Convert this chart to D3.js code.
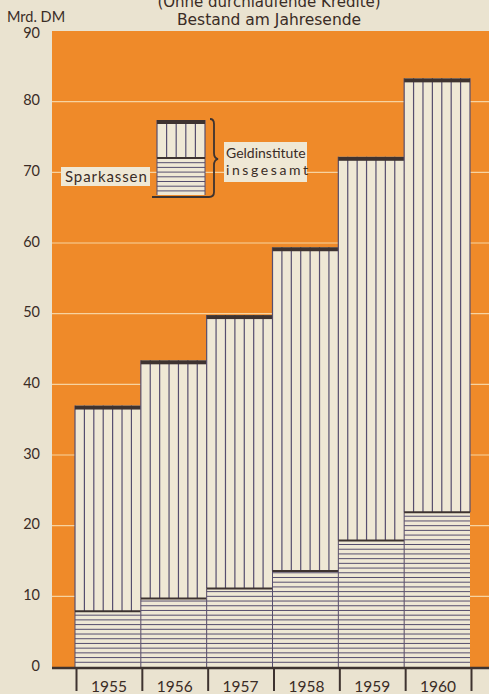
<!DOCTYPE html>
<html><head><meta charset="utf-8">
<script src="https://cdn.jsdelivr.net/npm/d3@7"></script>
<style>
html,body{margin:0;padding:0;background:#eae3d0;}
svg{display:block;}
text{font-family:Lato,"Open Sans",sans-serif;fill:#3a2c26;}
</style></head>
<body>
<script>
const years = ["1955","1956","1957","1958","1959","1960"];
const totalValues = [37.0, 43.4, 49.8, 59.4, 72.2, 83.3];   // Geldinstitute insgesamt
const sparkValues = [7.9, 9.7, 11.1, 13.6, 17.9, 21.9];      // Sparkassen
const yTicks = [0,10,20,30,40,50,60,70,80,90];
const titleLines = ["(Ohne durchlaufende Kredite)", "Bestand am Jahresende"];
const unitLabel = "Mrd. DM";
const legendLabels = {spark:"Sparkassen", total1:"Geldinstitute", total2:"insgesamt"};

const W = 489, H = 694;
const ORANGE = "#ef8a29", CREAM = "#efe8d5", DARK = "#3e3330", LINE = "#564e6e", GRID = "#f7d3a0";

const svg = d3.select("body").append("svg").attr("width", W).attr("height", H);

const y = d3.scaleLinear().domain([0, 90]).range([667, 31]);
const x = d3.scaleBand().domain(years).range([75, 470]).padding(0);

// orange plot background
svg.append("rect").attr("x", 52).attr("y", y(90)).attr("width", W - 52).attr("height", y(0) - y(90)).attr("fill", ORANGE);

// gridlines
svg.append("g").selectAll("line").data(yTicks.filter(d => d > 0 && d < 90)).join("line")
  .attr("x1", 52).attr("x2", W).attr("y1", d => y(d)).attr("y2", d => y(d))
  .attr("stroke", GRID).attr("stroke-width", 1.2);

// y labels
svg.append("g").selectAll("text").data(yTicks).join("text")
  .attr("x", 40).attr("y", d => y(d) + (d === 90 ? 3 : 0)).attr("text-anchor", "end")
  .attr("dominant-baseline", "middle").attr("font-size", 14.5).text(d => d);

svg.append("text").attr("x", 7).attr("y", 22).attr("font-size", 14.5).text(unitLabel);

// titles
svg.append("text").attr("x", 269).attr("y", 7).attr("text-anchor", "middle")
  .style("font-family", "'DejaVu Sans', sans-serif").attr("font-size", 15).text(titleLines[0]);
svg.append("text").attr("x", 269).attr("y", 25).attr("text-anchor", "middle")
  .style("font-family", "'DejaVu Sans', sans-serif").attr("font-size", 15.5).text(titleLines[1]);

// bars
const bars = svg.append("g");
const bw = x.bandwidth();
const hStep = 2 / 3; // horizontal hatch spacing in value units
years.forEach((yr, i) => {
  const x0 = x(yr), tot = totalValues[i], sp = sparkValues[i];
  const g = bars.append("g");
  g.append("rect").attr("x", x0).attr("y", y(tot)).attr("width", bw).attr("height", y(0) - y(tot)).attr("fill", CREAM);
  const nV = 7;
  d3.range(nV + (i === years.length - 1 ? 1 : 0)).forEach(k => {
    const xx = x0 + k * bw / nV;
    g.append("line").attr("x1", xx).attr("x2", xx).attr("y1", y(tot)).attr("y2", y(sp))
      .attr("stroke", LINE).attr("stroke-width", 1.2);
  });
  d3.range(hStep, sp, hStep).forEach(v => {
    g.append("line").attr("x1", x0).attr("x2", x0 + bw).attr("y1", y(v)).attr("y2", y(v))
      .attr("stroke", LINE).attr("stroke-width", 1);
  });
  g.append("line").attr("x1", x0).attr("x2", x0).attr("y1", y(sp)).attr("y2", y(0))
    .attr("stroke", LINE).attr("stroke-width", 1);
  g.append("line").attr("x1", x0).attr("x2", x0 + bw).attr("y1", y(sp)).attr("y2", y(sp))
    .attr("stroke", DARK).attr("stroke-width", 2);
  g.append("rect").attr("x", x0).attr("y", y(tot)).attr("width", bw).attr("height", 4).attr("fill", DARK);
});

// baseline
svg.append("line").attr("x1", 52).attr("x2", W).attr("y1", y(0) + 1).attr("y2", y(0) + 1)
  .attr("stroke", DARK).attr("stroke-width", 2.5);

// x ticks
const bounds = years.map(d => x(d)).concat([x(years[years.length - 1]) + bw]);
svg.append("g").selectAll("line").data(bounds).join("line")
  .attr("x1", d => d + 1.5).attr("x2", d => d + 1.5).attr("y1", y(0)).attr("y2", 691)
  .attr("stroke", DARK).attr("stroke-width", 2);
svg.append("g").selectAll("text").data(years).join("text")
  .attr("x", d => x(d) + bw / 2 + 1).attr("y", 692).attr("text-anchor", "middle")
  .attr("font-size", 15.5).text(d => d);

// legend
const lg = svg.append("g");
const lx = 157, lw = 48, lTop = 120, lMid = 158, lBot = 195;
lg.append("rect").attr("x", lx).attr("y", lTop).attr("width", lw).attr("height", lBot - lTop).attr("fill", CREAM);
d3.range(0, 6).forEach(k => {
  const xx = lx + k * lw / 5;
  lg.append("line").attr("x1", xx).attr("x2", xx).attr("y1", lTop).attr("y2", lMid).attr("stroke", LINE).attr("stroke-width", 1.2);
});
d3.range(lMid + 4.7, lBot, 4.7).forEach(yy => {
  lg.append("line").attr("x1", lx).attr("x2", lx + lw).attr("y1", yy).attr("y2", yy).attr("stroke", LINE).attr("stroke-width", 1);
});
lg.append("line").attr("x1", lx).attr("x2", lx).attr("y1", lMid).attr("y2", lBot).attr("stroke", LINE);
lg.append("line").attr("x1", lx + lw).attr("x2", lx + lw).attr("y1", lMid).attr("y2", lBot).attr("stroke", LINE);
lg.append("line").attr("x1", lx).attr("x2", lx + lw).attr("y1", lMid).attr("y2", lMid).attr("stroke", DARK).attr("stroke-width", 2);
lg.append("rect").attr("x", lx).attr("y", lTop).attr("width", lw).attr("height", 4).attr("fill", DARK);
lg.append("path")
  .attr("d", `M210,119 Q214,119 214,124 L214,153 Q214,158 218,159 Q214,160 214,165 L214,192 Q214,197 209,197 L152,197`)
  .attr("fill", "none").attr("stroke", DARK).attr("stroke-width", 1.8);

// legend labels
lg.append("rect").attr("x", 61).attr("y", 167).attr("width", 89).attr("height", 19).attr("fill", CREAM);
lg.append("text").attr("x", 65).attr("y", 182).attr("font-size", 15).attr("letter-spacing", 0.9).text(legendLabels.spark);
lg.append("rect").attr("x", 224).attr("y", 142).attr("width", 83).attr("height", 40).attr("fill", CREAM);
lg.append("text").attr("x", 226).attr("y", 158).attr("font-size", 14).attr("letter-spacing", 0).text(legendLabels.total1);
lg.append("text").attr("x", 226).attr("y", 175).attr("font-size", 14).attr("letter-spacing", 2.6).text(legendLabels.total2);
</script>
</body></html>
